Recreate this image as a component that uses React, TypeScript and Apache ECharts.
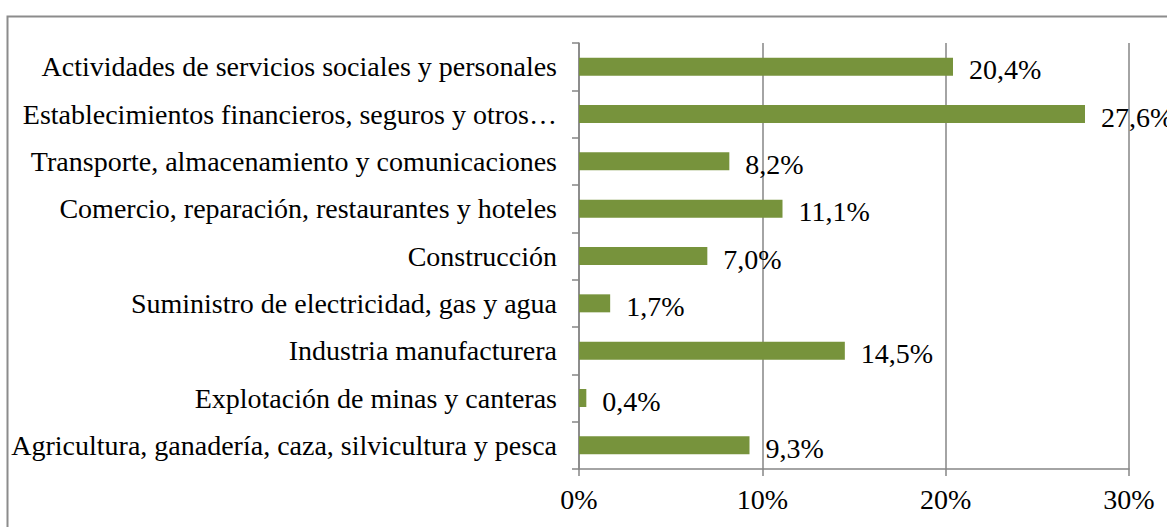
import React, { useEffect, useRef } from "react";
import * as echarts from "echarts";

const categories = [
  "Actividades de servicios sociales y personales",
  "Establecimientos financieros, seguros y otros…",
  "Transporte, almacenamiento y comunicaciones",
  "Comercio, reparación, restaurantes y hoteles",
  "Construcción",
  "Suministro de electricidad, gas y agua",
  "Industria manufacturera",
  "Explotación de minas y canteras",
  "Agricultura, ganadería, caza, silvicultura y pesca",
];
const values = [20.4, 27.6, 8.2, 11.1, 7.0, 1.7, 14.5, 0.4, 9.3];
const xTicks = [0, 10, 20, 30];

const FONT = "Liberation Serif";
const GRAY = "#868686";

export default function App() {
  const ref = useRef<HTMLDivElement>(null);
  useEffect(() => {
    if (!ref.current) return;
    const chart = echarts.init(ref.current, null, { renderer: "svg" });
    chart.setOption({
      animation: false,
      backgroundColor: "#ffffff",
      grid: { left: 579, right: 38, top: 43, bottom: 58 },
      graphic: [
        {
          type: "rect",
          left: 5,
          top: 14,
          shape: { x: 0, y: 0, width: 1400, height: 800 },
          style: { fill: "none", stroke: "#8c8c8c", lineWidth: 2 },
          silent: true,
          z: -1,
        },
      ],
      xAxis: {
        type: "value",
        min: xTicks[0],
        max: xTicks[xTicks.length - 1],
        interval: 10,
        axisLine: { show: true, lineStyle: { color: GRAY, width: 1.5 } },
        axisTick: { show: true, length: 7, lineStyle: { color: GRAY, width: 1.5 } },
        splitLine: { show: true, lineStyle: { color: GRAY, width: 1.5 } },
        axisLabel: {
          formatter: "{value}%",
          fontFamily: FONT,
          fontSize: 28,
          color: "#000",
          margin: 16,
        },
      },
      yAxis: {
        type: "category",
        inverse: true,
        data: categories,
        axisLine: { show: true, lineStyle: { color: GRAY, width: 1.5 } },
        axisTick: { show: true, length: 7, lineStyle: { color: GRAY, width: 1.5 } },
        axisLabel: {
          fontFamily: FONT,
          fontSize: 28,
          color: "#000",
          margin: 22,
        },
      },
      series: [
        {
          type: "bar",
          data: values,
          barWidth: 18,
          itemStyle: { color: "#77933C" },
          label: {
            show: true,
            position: "right",
            distance: 16,
            fontFamily: FONT,
            fontSize: 28,
            color: "#000",
            offset: [0, 3],
            formatter: (p: any) => p.value.toFixed(1).replace(".", ",") + "%",
          },
        },
      ],
    });
    return () => chart.dispose();
  }, []);
  return <div ref={ref} style={{ width: 1167, height: 527, position: "absolute", left: 0, top: 0 }} />;
}
